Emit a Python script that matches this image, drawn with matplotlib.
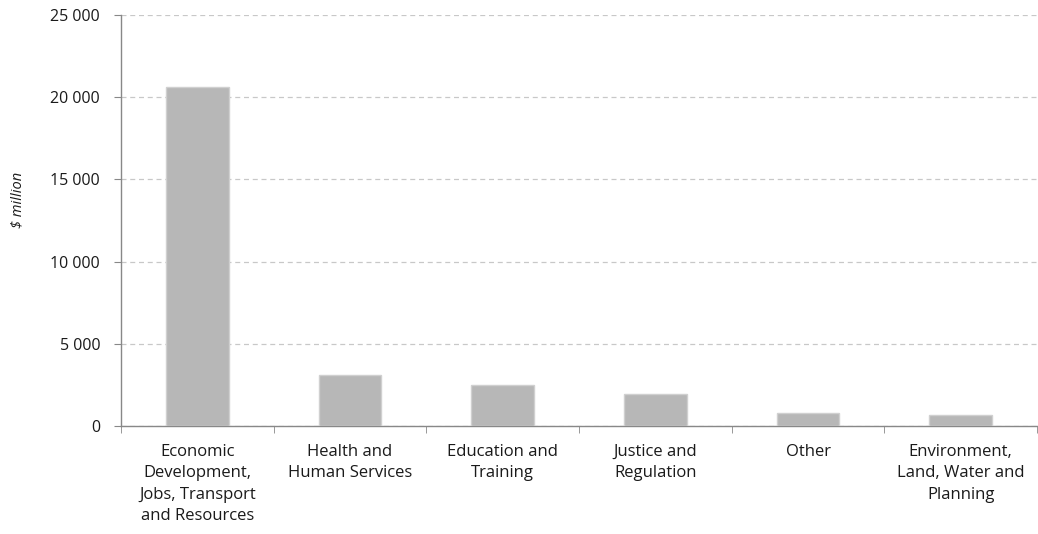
import matplotlib.pyplot as plt
import numpy as np
from matplotlib.ticker import FuncFormatter, FixedLocator

categories = ["Economic\nDevelopment,\nJobs, Transport\nand Resources",
              "Health and\nHuman Services",
              "Education and\nTraining",
              "Justice and\nRegulation",
              "Other",
              "Environment,\nLand, Water and\nPlanning"]
values = [20600, 3100, 2490, 1930, 770, 660]
y_ticks = [0, 5000, 10000, 15000, 20000, 25000]

plt.rcParams['font.family'] = ['Open Sans', 'DejaVu Sans']

fig = plt.figure(figsize=(10.38, 5.34), dpi=100)
ax = fig.add_axes([0.1166, 0.2022, 0.8825, 0.770])

x = np.arange(len(categories))
ax.bar(x, values, width=0.41, color="#b7b7b7", edgecolor="#d0d0d0", linewidth=1.0, zorder=3)

ax.set_xlim(-0.5, len(categories) - 0.5)
ax.set_ylim(0, 25000)
ax.set_yticks(y_ticks)
ax.yaxis.set_major_formatter(FuncFormatter(lambda v, p: f"{int(v):,}".replace(",", " ")))
ax.grid(axis="y", color="#c8c8c8", linestyle=(0, (4, 3)), linewidth=0.9, zorder=0)

ax.set_xticks(x)
ax.set_xticklabels(categories, linespacing=1.45, fontsize=12, color="#1a1a1a")
ax.tick_params(axis="x", which="major", length=0, pad=13)
ax.xaxis.set_minor_locator(FixedLocator(np.arange(-0.5, len(categories), 1.0)))
ax.tick_params(axis="x", which="minor", length=5, color="#888888", direction="out")
ax.tick_params(axis="y", length=5, color="#888888", labelsize=11.5, labelcolor="#1a1a1a", pad=10)

for s in ["top", "right"]:
    ax.spines[s].set_visible(False)
for s in ["left", "bottom"]:
    ax.spines[s].set_color("#888888")
    ax.spines[s].set_linewidth(1.0)

fig.text(18 / 1038, 1 - 200 / 534, "$ million", rotation=90, style="italic",
         fontsize=10.5, color="#1a1a1a", ha="center", va="center")

fig.savefig("out.png", dpi=100)
